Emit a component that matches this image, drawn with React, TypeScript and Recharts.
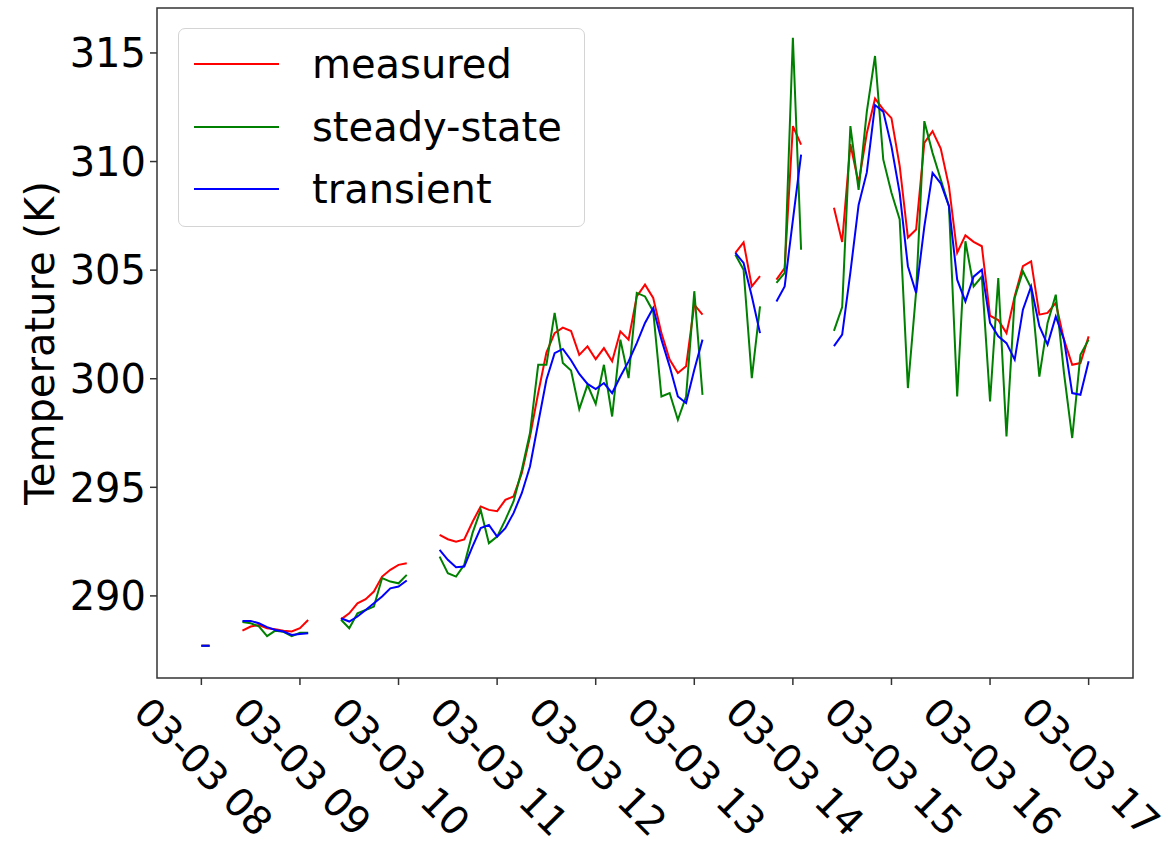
import React from 'react';
import { LineChart, Line, XAxis, YAxis, ReferenceArea, Legend } from 'recharts';

// Samples every 5 minutes starting at 08:00 on 03-03; null marks a missing sample.
const START_HOUR = 8;
const STEP_MINUTES = 5;

const measured: (number | null)[] = [
  287.7, 287.7, null, null, null,
  288.4, 288.59, 288.66, 288.51, 288.46, 288.4, 288.36, 288.51, 288.89,
  null, null, null,
  288.92, 289.2, 289.66, 289.85, 290.2, 290.89, 291.2, 291.43, 291.5,
  null, null, null,
  292.81, 292.61, 292.5, 292.6, 293.4, 294.12, 293.96, 293.9, 294.42, 294.58,
  295.65, 297.34, 299.34, 301.2, 302.1, 302.35, 302.2, 301.1, 301.49, 300.9,
  301.41, 300.8, 302.18, 301.8, 303.79, 304.33, 303.72, 302.1, 300.88, 300.26,
  300.57, 303.41, 302.95,
  null, null, null,
  305.79, 306.28, 304.25, 304.72,
  null,
  304.56, 305.1, 311.63, 310.78,
  null, null, null,
  307.87, 306.3, 310.8, 309.0, 311.3, 312.9, 312.4, 312.0, 309.8, 306.5,
  306.87, 310.86, 311.4, 310.6, 308.86, 305.8, 306.6, 306.3, 306.1, 302.9,
  302.7, 302.1, 303.8, 305.18, 305.4, 302.95, 303.03, 303.49, 301.8, 300.64,
  300.72, 301.95,
];

const steadyState: (number | null)[] = [
  287.7, 287.7, null, null, null,
  288.8, 288.74, 288.6, 288.15, 288.4, 288.35, 288.15, 288.3, 288.3,
  null, null, null,
  288.9, 288.51, 289.2, 289.35, 289.51, 290.82, 290.66, 290.58, 290.97,
  null, null, null,
  291.81, 291.05, 290.89, 291.43, 292.89, 293.96, 292.43, 292.73, 293.5, 294.35,
  295.8, 297.5, 300.64, 300.64, 303.03, 300.72, 300.38, 298.6, 299.72, 298.84,
  300.64, 298.26, 301.8, 300.03, 303.95, 303.79, 303.1, 299.18, 299.34, 298.11,
  299.18, 304.03, 299.26,
  null, null, null,
  305.71, 305.02, 300.03, 303.33,
  null,
  304.41, 304.87, 315.7, 305.94,
  null, null, null,
  302.2, 303.3, 311.63, 308.7, 312.3, 314.86, 310.1, 308.56, 307.33, 299.57,
  304.0, 311.86, 310.4, 309.17, 307.94, 299.18, 306.33, 304.25, 304.7, 298.95,
  304.64, 297.34, 303.72, 304.95, 304.18, 300.1, 302.57, 303.87, 300.26, 297.27,
  301.1, 301.8,
];

const transient: (number | null)[] = [
  287.7, 287.7, null, null, null,
  288.85, 288.85, 288.74, 288.56, 288.43, 288.36, 288.2, 288.25, 288.28,
  null, null, null,
  288.97, 288.82, 289.05, 289.35, 289.66, 289.97, 290.35, 290.43, 290.71,
  null, null, null,
  292.12, 291.66, 291.32, 291.35, 292.27, 293.12, 293.27, 292.73, 293.12, 293.81,
  294.73, 295.96, 297.96, 299.95, 301.18, 301.37, 300.85, 300.22, 299.76, 299.52,
  299.8, 299.34, 300.1, 300.8, 301.64, 302.57, 303.26, 301.8, 300.57, 299.18,
  298.88, 300.41, 301.8,
  null, null, null,
  305.79, 305.33, 303.8, 302.1,
  null,
  303.56, 304.25, 307.3, 310.32,
  null, null, null,
  301.5, 302.03, 304.9, 308.0, 309.5, 312.6, 312.3, 310.7, 308.56, 305.18,
  303.95, 307.0, 309.48, 309.0, 307.94, 304.56, 303.56, 304.7, 305.02, 302.57,
  301.95, 301.64, 300.88, 303.18, 304.25, 302.42, 301.57, 302.87, 301.8, 299.34,
  299.26, 300.8,
];

const hourTicks = [8, 9, 10, 11, 12, 13, 14, 15, 16, 17];
const hourLabels = [
  '03-03 08', '03-03 09', '03-03 10', '03-03 11', '03-03 12',
  '03-03 13', '03-03 14', '03-03 15', '03-03 16', '03-03 17',
];
const tempTicks = [290, 295, 300, 305, 310, 315];

const xDomain: [number, number] = [7.55, 17.45];
const yDomain: [number, number] = [286.22, 317.07];

const seriesNames = ['measured', 'steady-state', 'transient'];
const seriesColors = ['#ff0000', '#008000', '#0000ff'];

const data = measured.map((m, i) => ({
  hour: START_HOUR + (i * STEP_MINUTES) / 60,
  measured: m,
  steady: steadyState[i],
  transient: transient[i],
}));

const FONT = '"DejaVu Sans", Verdana, sans-serif';

const HourTick = (props: any) => {
  const { x, y, payload } = props;
  const idx = hourTicks.indexOf(payload.value);
  const label = idx >= 0 ? hourLabels[idx] : '';
  const cx = x + 2;
  const cy = y + 80;
  return (
    <text
      x={cx}
      y={cy}
      textAnchor="middle"
      dominantBaseline="central"
      transform={`rotate(45, ${cx}, ${cy})`}
      fontSize={39}
      fontFamily={FONT}
      fill="#000"
    >
      {label}
    </text>
  );
};

const YTitle = (props: any) => {
  const vb = props.viewBox || { x: 0, y: 8, width: 157, height: 670 };
  const cx = vb.x + 40;
  const cy = vb.y + vb.height / 2;
  return (
    <text
      x={cx}
      y={cy}
      textAnchor="middle"
      dominantBaseline="central"
      transform={`rotate(-90, ${cx}, ${cy})`}
      fontSize={40}
      fontFamily={FONT}
      fill="#000"
    >
      Temperature (K)
    </text>
  );
};

const LegendBox = () => (
  <div
    style={{
      position: 'relative',
      width: 407,
      height: 199,
      boxSizing: 'border-box',
      border: '1.5px solid #d4d4d4',
      borderRadius: 7,
      background: 'rgba(255,255,255,0.85)',
      fontFamily: FONT,
      fontSize: 40,
      color: '#000',
    }}
  >
    {seriesNames.map((name, i) => (
      <div key={name}>
        <div
          style={{
            position: 'absolute',
            left: 15,
            top: 34 + i * 62.5,
            width: 85,
            height: 2,
            background: seriesColors[i],
          }}
        />
        <div
          style={{
            position: 'absolute',
            left: 133,
            top: 35 + i * 62.5 - 25,
            lineHeight: '50px',
            whiteSpace: 'nowrap',
          }}
        >
          {name}
        </div>
      </div>
    ))}
  </div>
);

export default function App() {
  return (
    <div style={{ position: 'absolute', left: 0, top: 0, background: '#fff' }}>
      <LineChart
        width={1168}
        height={843}
        data={data}
        margin={{ top: 8, right: 35, bottom: 0, left: 0 }}
      >
        <XAxis
          dataKey="hour"
          type="number"
          domain={xDomain}
          ticks={hourTicks}
          interval={0}
          allowDataOverflow
          height={165}
          axisLine={false}
          tickLine={{ stroke: '#333', strokeWidth: 1.5 }}
          tickSize={7}
          tickMargin={2}
          tick={<HourTick />}
        />
        <YAxis
          type="number"
          domain={yDomain}
          ticks={tempTicks}
          interval={0}
          allowDataOverflow
          width={157}
          axisLine={false}
          tickLine={{ stroke: '#333', strokeWidth: 1.5 }}
          tickSize={7}
          tickMargin={4}
          tick={{ fontSize: 40, fontFamily: FONT, fill: '#000' }}
          label={<YTitle />}
        />
        <Line
          dataKey="measured"
          name={seriesNames[0]}
          stroke={seriesColors[0]}
          strokeWidth={2}
          dot={false}
          activeDot={false}
          isAnimationActive={false}
          connectNulls={false}
        />
        <Line
          dataKey="steady"
          name={seriesNames[1]}
          stroke={seriesColors[1]}
          strokeWidth={2}
          dot={false}
          activeDot={false}
          isAnimationActive={false}
          connectNulls={false}
        />
        <Line
          dataKey="transient"
          name={seriesNames[2]}
          stroke={seriesColors[2]}
          strokeWidth={2}
          dot={false}
          activeDot={false}
          isAnimationActive={false}
          connectNulls={false}
        />
        <ReferenceArea
          x1={xDomain[0]}
          x2={xDomain[1]}
          y1={yDomain[0]}
          y2={yDomain[1]}
          fill="none"
          stroke="#333"
          strokeWidth={1.5}
          ifOverflow="visible"
        />
        <Legend
          layout="vertical"
          align="center"
          verticalAlign="middle"
          content={<LegendBox />}
          wrapperStyle={{ left: 178, top: 28, width: 407, height: 199 }}
        />
      </LineChart>
    </div>
  );
}
